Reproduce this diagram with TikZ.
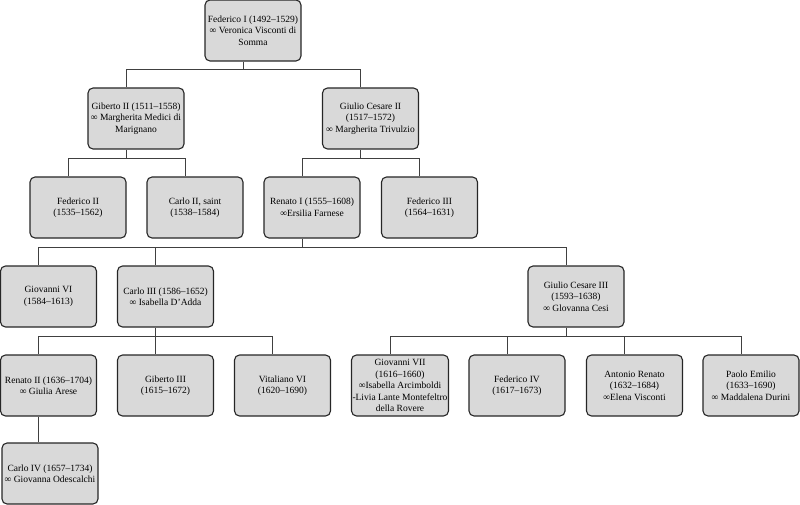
\documentclass[tikz,border=0pt]{standalone}
\usepackage{fontspec}
\setmainfont{Liberation Serif}
\begin{document}
\begin{tikzpicture}[x=1pt,y=-1pt,
    person/.style={draw=black!85,line width=1.1pt,fill=black!15,rounded corners=5pt,
      minimum width=96pt,minimum height=61pt,inner sep=1pt,align=center,
      font=\fontsize{9.5}{11.5}\selectfont},
    link/.style={draw=black!75,line width=1pt}]
    \useasboundingbox (0,0) rectangle (800,505);
    % generation 1
    \node[person] (fed1) at (253,30.5) {Federico I (1492–1529)\\∞ Veronica Visconti di\\Somma};
    % generation 2
    \node[person] (gib2) at (136,118.5) {Giberto II (1511–1558)\\∞ Margherita Medici di\\Marignano};
    \node[person] (gc2) at (370.5,118.5) {Giulio Cesare II\\(1517–1572)\\∞ Margherita Trivulzio};
    % generation 3
    \node[person] (fed2) at (78,207.5) {Federico II\\(1535–1562)};
    \node[person] (carlo2) at (195,207.5) {Carlo II, saint\\(1538–1584)};
    \node[person] (ren1) at (312,207.5) {Renato I (1555–1608)\\∞Ersilia Farnese};
    \node[person] (fed3) at (429.5,207.5) {Federico III\\(1564–1631)};
    % generation 4
    \node[person] (giov6) at (48.5,296.5) {Giovanni VI\\(1584–1613)};
    \node[person] (carlo3) at (165.5,296.5) {Carlo III (1586–1652)\\∞ Isabella D’Adda};
    \node[person] (gc3) at (576,296.5) {Giulio Cesare III\\(1593–1638)\\∞ Glovanna Cesi};
    % generation 5
    \node[person] (ren2) at (48.5,385.5) {Renato II (1636–1704)\\∞ Giulia Arese};
    \node[person] (gib3) at (165.5,385.5) {Giberto III\\(1615–1672)};
    \node[person] (vit6) at (282.5,385.5) {Vitaliano VI\\(1620–1690)};
    \node[person] (giov7) at (400,385.5) {Giovanni VII\\(1616–1660)\\∞Isabella Arcimboldi\\-Livia Lante Montefeltro\\della Rovere};
    \node[person] (fed4) at (517,385.5) {Federico IV\\(1617–1673)};
    \node[person] (antren) at (634.5,385.5) {Antonio Renato\\(1632–1684)\\∞Elena Visconti};
    \node[person] (paolo) at (751,385.5) {Paolo Emilio\\(1633–1690)\\∞ Maddalena Durini};
    % generation 6
    \node[person] (carlo4) at (50,473.5) {Carlo IV (1657–1734)\\∞ Giovanna Odescalchi};
    % descent lines
    \draw[link] ([xshift=-10pt]fed1.south) -- ++(0,8) coordinate (fed1j);
    \foreach \c in {gib2,gc2}
        \draw[link] (fed1j) -| ([xshift=-10pt]\c.north);
    \draw[link] ([xshift=-10pt]gib2.south) -- ++(0,9) coordinate (gib2j);
    \foreach \c in {fed2,carlo2}
        \draw[link] (gib2j) -| ([xshift=-10pt]\c.north);
    \draw[link] ([xshift=-10pt]gc2.south) -- ++(0,9) coordinate (gc2j);
    \foreach \c in {ren1,fed3}
        \draw[link] (gc2j) -| ([xshift=-10pt]\c.north);
    \draw[link] ([xshift=-10pt]ren1.south) -- ++(0,9) coordinate (ren1j);
    \foreach \c in {giov6,carlo3,gc3}
        \draw[link] (ren1j) -| ([xshift=-10pt]\c.north);
    \draw[link] ([xshift=-10pt]carlo3.south) -- ++(0,9) coordinate (carlo3j);
    \foreach \c in {ren2,gib3,vit6}
        \draw[link] (carlo3j) -| ([xshift=-10pt]\c.north);
    \draw[link] ([xshift=-10pt]gc3.south) -- ++(0,9) coordinate (gc3j);
    \foreach \c in {giov7,fed4,antren,paolo}
        \draw[link] (gc3j) -| ([xshift=-10pt]\c.north);
    \draw[link] ([xshift=-10pt]ren2.south) -- ([xshift=-10pt]ren2.south |- carlo4.north);
\end{tikzpicture}
\end{document}
